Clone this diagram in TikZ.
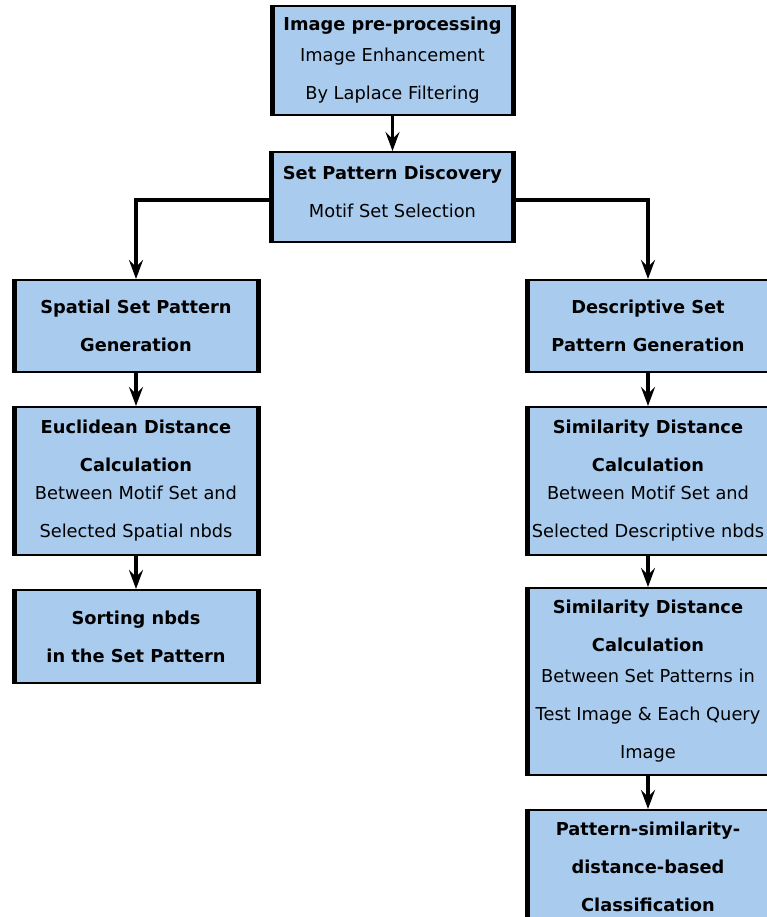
\documentclass[tikz,border=0pt]{standalone}
\usepackage{fontspec}
\setmainfont{DejaVu Sans}
\usepackage{tikz}
\usetikzlibrary{positioning,arrows.meta}
\definecolor{boxblue}{RGB}{169,203,238}

\begin{document}
\begin{tikzpicture}[
    x=1pt, y=1pt,
    node distance=33pt,
    blk/.style={draw=black, fill=boxblue, line width=2pt, align=center, inner sep=0pt,
        font=\fontsize{17.8}{38}\selectfont},
    arrow/.style={-{Stealth[length=19pt, width=14pt, inset=7pt]}, line width=3.4pt}
]
    \useasboundingbox (0,0) rectangle (766,-917);

    \node[blk, minimum width=239, minimum height=109] (prep) at (392.5,-60.5)
        {\textbf{Image pre-processing}\\[-7pt] Image Enhancement\\ By Laplace Filtering};
    \node[blk, minimum width=240, minimum height=90, text depth=10pt, below=35pt of prep] (disc)
        {\textbf{Set Pattern Discovery}\\ Motif Set Selection};

    % left branch
    \node[blk, minimum width=242, minimum height=92] (spat) at (136,-326)
        {\textbf{Spatial Set Pattern}\\ \textbf{Generation}};
    \node[blk, minimum width=242, minimum height=148, below=of spat] (eucl)
        {\textbf{Euclidean Distance}\\ \textbf{Calculation}\\[-10pt] Between Motif Set and\\ Selected Spatial nbds};
    \node[blk, minimum width=242, minimum height=93, below=of eucl] (sort)
        {\textbf{Sorting nbds}\\ \textbf{in the Set Pattern}};

    % right branch
    \node[blk, minimum width=240, minimum height=92] (desc) at (648,-326)
        {\textbf{Descriptive Set}\\ \textbf{Pattern Generation}};
    \node[blk, minimum width=240, minimum height=148, below=of desc] (sim1)
        {\textbf{Similarity Distance}\\ \textbf{Calculation}\\[-10pt] Between Motif Set and\\ Selected Descriptive nbds};
    \node[blk, minimum width=240, minimum height=187, below=31pt of sim1] (sim2)
        {\textbf{Similarity Distance}\\ \textbf{Calculation}\\[-7pt] Between Set Patterns in\\ Test Image \& Each Query\\ Image};
    \node[blk, minimum width=240, minimum height=114, below=of sim2] (cls)
        {\textbf{Pattern-similarity-}\\ \textbf{distance-based}\\ \textbf{Classification}};

    \foreach \n in {prep, disc, spat, eucl, sort, desc, sim1, sim2, cls}
        \draw[line width=5pt] (\n.north west) -- (\n.south west)
            (\n.north east) -- (\n.south east);

    \draw[arrow] (prep) -- (disc);
    \draw[arrow] ([yshift=-3pt]disc.west) -| (spat.north);
    \draw[arrow] ([yshift=-3pt]disc.east) -| (desc.north);
    \draw[arrow] (spat) -- (eucl);
    \draw[arrow] (eucl) -- (sort);
    \draw[arrow] (desc) -- (sim1);
    \draw[arrow] (sim1) -- (sim2);
    \draw[arrow] (sim2) -- (cls);
\end{tikzpicture}
\end{document}
